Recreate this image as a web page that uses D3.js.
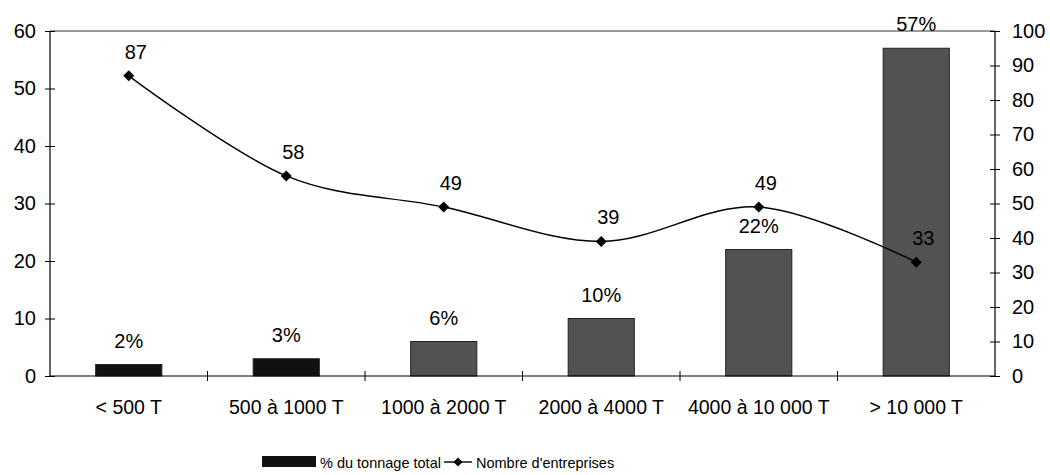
<!DOCTYPE html>
<html>
<head>
<meta charset="utf-8">
<script src="https://cdn.jsdelivr.net/npm/d3@7/dist/d3.min.js"></script>
<style>
  html, body { margin: 0; padding: 0; background: #fff; }
  svg { display: block; font-family: "Liberation Sans", Arial, sans-serif; }
</style>
</head>
<body>
<svg id="chart" width="1050" height="475"></svg>
<script>
const categories = ["< 500 T", "500 à 1000 T", "1000 à 2000 T", "2000 à 4000 T", "4000 à 10 000 T", "> 10 000 T"];
const tonnagePct = [2, 3, 6, 10, 22, 57];
const tonnageLabels = ["2%", "3%", "6%", "10%", "22%", "57%"];
const nbEntreprises = [87, 58, 49, 39, 49, 33];
const leftTicks = [0, 10, 20, 30, 40, 50, 60];
const rightTicks = [0, 10, 20, 30, 40, 50, 60, 70, 80, 90, 100];
const seriesNames = ["% du tonnage total", "Nombre d'entreprises"];

const barFill = (i) => i < 2 ? "#111" : "#525252";

const svg = d3.select("#chart");
const m = { left: 50, right: 995, top: 31, bottom: 376 };

const x = d3.scaleBand().domain(categories).range([m.left, m.right]).paddingInner(0.58).paddingOuter(0.29);
const xb = d3.scaleBand().domain(categories).range([m.left, m.right]);
const yL = d3.scaleLinear().domain([0, 60]).range([m.bottom, m.top]);
const yR = d3.scaleLinear().domain([0, 100]).range([m.bottom, m.top]);

// plot frame (top border)
svg.append("line").attr("x1", m.left).attr("x2", m.right).attr("y1", m.top).attr("y2", m.top)
  .attr("stroke", "#333").attr("stroke-width", 1);

// bars
svg.append("g").selectAll("rect").data(tonnagePct).join("rect")
  .attr("x", (d, i) => x(categories[i]))
  .attr("width", x.bandwidth())
  .attr("y", d => yL(d))
  .attr("height", d => yL(0) - yL(d))
  .attr("fill", (d, i) => barFill(i))
  .attr("stroke", "#222").attr("stroke-width", 1);

// left axis
const gL = svg.append("g").attr("transform", `translate(${m.left},0)`)
  .call(d3.axisLeft(yL).tickValues(leftTicks).tickSize(5).tickPadding(9).tickFormat(d3.format("d")));
gL.selectAll(".tick line").attr("x1", 5).attr("x2", -5);
// right axis
const gR = svg.append("g").attr("transform", `translate(${m.right},0)`)
  .call(d3.axisRight(yR).tickValues(rightTicks).tickSize(5).tickPadding(12).tickFormat(d3.format("d")));
gR.selectAll(".tick line").attr("x1", -5).attr("x2", 5);
// bottom axis
const gB = svg.append("g").attr("transform", `translate(0,${m.bottom})`)
  .call(d3.axisBottom(xb).tickSize(0).tickPadding(24));
gB.selectAll(".tick line").remove();
gB.append("g").selectAll("line").data(categories.slice(1)).join("line")
  .attr("x1", d => xb(d)).attr("x2", d => xb(d)).attr("y1", -5).attr("y2", 5)
  .attr("stroke", "#000");

[gL, gR, gB].forEach(g => {
  g.select(".domain").attr("stroke", "#000").attr("stroke-width", 1.2);
  g.selectAll("text").attr("font-size", 20).attr("fill", "#000").attr("font-family", "Liberation Sans, Arial, sans-serif");
  g.selectAll(".tick line").attr("stroke", "#000");
});
gB.selectAll("text").attr("font-size", 19.5);
gL.select(".domain").attr("d", `M0,${m.bottom}V${m.top}`);
gR.select(".domain").attr("d", `M0,${m.bottom}V${m.top}`);
gB.select(".domain").attr("d", `M${m.left},0H${m.right}`);

// bar labels
svg.append("g").selectAll("text").data(tonnageLabels).join("text")
  .attr("x", (d, i) => xb(categories[i]) + xb.bandwidth() / 2)
  .attr("y", (d, i) => yL(tonnagePct[i]) - 17)
  .attr("text-anchor", "middle").attr("font-size", 20).attr("fill", "#000")
  .text(d => d);

// line
const cx = (i) => xb(categories[i]) + xb.bandwidth() / 2;
const line = d3.line().x((d, i) => cx(i)).y(d => yR(d)).curve(d3.curveCardinal.tension(0));
svg.append("path").datum(nbEntreprises).attr("d", line)
  .attr("fill", "none").attr("stroke", "#000").attr("stroke-width", 1.4);

svg.append("g").selectAll("path").data(nbEntreprises).join("path")
  .attr("d", d3.symbol().type(d3.symbolSquare).size(60))
  .attr("transform", (d, i) => `translate(${cx(i)},${yR(d)}) rotate(45)`)
  .attr("fill", "#000");

svg.append("g").selectAll("text").data(nbEntreprises).join("text")
  .attr("x", (d, i) => cx(i) + 7)
  .attr("y", d => yR(d) - 17)
  .attr("text-anchor", "middle").attr("font-size", 20).attr("fill", "#000")
  .text(d => d);

// legend
const lg = svg.append("g");
lg.append("rect").attr("x", 262).attr("y", 456).attr("width", 54).attr("height", 11).attr("fill", "#111");
lg.append("text").attr("x", 320).attr("y", 468).attr("font-size", 14.5).attr("fill", "#000").text(seriesNames[0]);
lg.append("line").attr("x1", 444).attr("x2", 472).attr("y1", 462).attr("y2", 462).attr("stroke", "#000").attr("stroke-width", 1.4);
lg.append("path").attr("d", d3.symbol().type(d3.symbolSquare).size(40)).attr("transform", "translate(458,462) rotate(45)").attr("fill", "#000");
lg.append("text").attr("x", 476).attr("y", 468).attr("font-size", 14.5).attr("fill", "#000").text(seriesNames[1]);
</script>
</body>
</html>
